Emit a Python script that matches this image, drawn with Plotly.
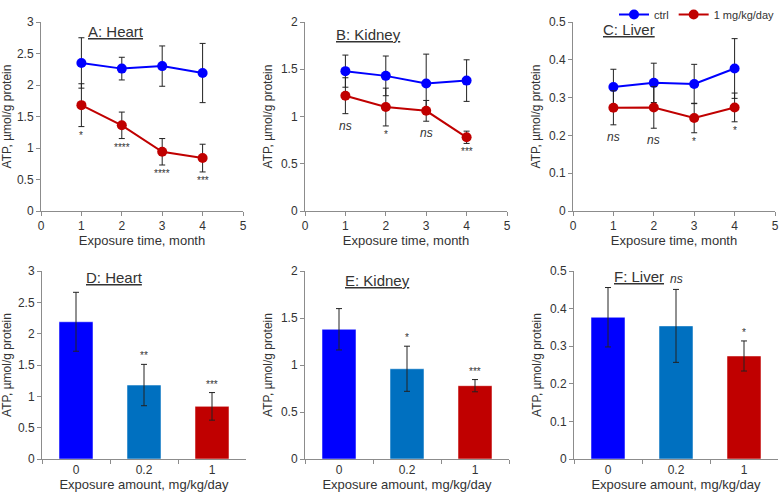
import plotly.graph_objects as go

# ---- data ----
months = [1, 2, 3, 4]

heart_ctrl = [2.35, 2.26, 2.30, 2.19]
heart_ctrl_err = [0.40, 0.18, 0.32, 0.47]
heart_trt = [1.68, 1.36, 0.94, 0.84]
heart_trt_err = [0.34, 0.21, 0.21, 0.22]
heart_sig = ["*", "****", "****", "***"]

kidney_ctrl = [1.48, 1.43, 1.35, 1.38]
kidney_ctrl_err = [0.17, 0.21, 0.31, 0.22]
kidney_trt = [1.22, 1.10, 1.06, 0.78]
kidney_trt_err = [0.19, 0.20, 0.11, 0.065]
kidney_sig = ["<i>ns</i>", "*", "<i>ns</i>", "***"]

liver_ctrl = [0.328, 0.339, 0.336, 0.377]
liver_ctrl_err = [0.047, 0.052, 0.052, 0.079]
liver_trt = [0.273, 0.274, 0.246, 0.274]
liver_trt_err = [0.045, 0.055, 0.039, 0.038]
liver_sig = ["<i>ns</i>", "<i>ns</i>", "*", "*"]

doses = ["0", "0.2", "1"]
heart_dose = [2.19, 1.18, 0.84]
heart_dose_err = [0.47, 0.33, 0.22]
heart_dose_sig = ["", "**", "***"]
kidney_dose = [1.38, 0.96, 0.78]
kidney_dose_err = [0.22, 0.24, 0.065]
kidney_dose_sig = ["", "*", "***"]
liver_dose = [0.377, 0.354, 0.274]
liver_dose_err = [0.079, 0.097, 0.04]
liver_dose_sig = ["", "<i>ns</i>", "*"]

BLUE = "#0000FF"
RED = "#C00000"
MID = "#0070C0"
TXT = "#333333"
AXC = "#8c8c8c"
FONT = "Liberation Sans, Arial, sans-serif"

fig = go.Figure()

top = [
    ("A: Heart", heart_ctrl, heart_ctrl_err, heart_trt, heart_trt_err, heart_sig, 3, 0.5),
    ("B: Kidney", kidney_ctrl, kidney_ctrl_err, kidney_trt, kidney_trt_err, kidney_sig, 2, 0.5),
    ("C: Liver", liver_ctrl, liver_ctrl_err, liver_trt, liver_trt_err, liver_sig, 0.5, 0.1),
]
bottom = [
    ("D: Heart", heart_dose, heart_dose_err, heart_dose_sig, 3, 0.5),
    ("E: Kidney", kidney_dose, kidney_dose_err, kidney_dose_sig, 2, 0.5),
    ("F: Liver", liver_dose, liver_dose_err, liver_dose_sig, 0.5, 0.1),
]

# panel domains in paper coords (pixels / figure size)
top_x = [(41, 243), (305, 507), (573, 775)]
bot_x = [(42, 246), (305, 509), (574, 778)]
top_y = (1 - 211 / 496, 1 - 22 / 496)
bot_y = (1 - 459 / 496, 1 - 271 / 496)
title_pos_top = [(0.225, 0.95), (0.145, 0.935), (0.14, 0.96)]
title_pos_bot = [(0.205, 0.965), (0.185, 0.95), (0.185, 0.97)]

err_style = dict(type="data", color="#222222", thickness=1, width=3)
annotations = []

axis_common = dict(
    showline=True, linecolor=AXC, linewidth=1, ticks="outside", ticklen=4,
    tickcolor=AXC, showgrid=False, zeroline=False, automargin=False,
    tickfont=dict(size=12, color=TXT, family=FONT),
)

for i, (name, c, ce, t, te, sig, ymax, dt) in enumerate(top):
    n = i + 1
    xa = "x" if n == 1 else "x%d" % n
    ya = "y" if n == 1 else "y%d" % n
    fig.add_trace(go.Scatter(
        x=months, y=c, error_y=dict(array=ce, **err_style), name="ctrl",
        mode="lines+markers", line=dict(color=BLUE, width=2),
        marker=dict(size=10, color=BLUE), xaxis=xa, yaxis=ya,
        showlegend=(n == 1), legendgroup="ctrl"))
    fig.add_trace(go.Scatter(
        x=months, y=t, error_y=dict(array=te, **err_style), name="1 mg/kg/day",
        mode="lines+markers", line=dict(color=RED, width=2),
        marker=dict(size=10, color=RED), xaxis=xa, yaxis=ya,
        showlegend=(n == 1), legendgroup="trt"))
    for m, v, e, s in zip(months, t, te, sig):
        italic = s.startswith("<i>")
        annotations.append(dict(
            x=m, y=v - e, xref=xa, yref=ya, text=s, showarrow=False,
            yanchor="top", yshift=-3 if italic else -1,
            font=dict(size=12 if italic else 10, color=TXT, family=FONT)))
    tx, ty = title_pos_top[i]
    annotations.append(dict(
        x=tx, y=ty, xref=xa + " domain", yref=ya + " domain",
        text="<u>" + name + "</u>", showarrow=False, xanchor="left",
        yanchor="middle", font=dict(size=15, color=TXT, family=FONT)))
    d = top_x[i]
    fig.layout["xaxis" if n == 1 else "xaxis%d" % n] = dict(
        domain=[d[0] / 780, d[1] / 780], anchor=ya, range=[0, 5], dtick=1,
        title=dict(text="Exposure time, month", standoff=2,
                   font=dict(size=13, color=TXT, family=FONT)),
        **axis_common)
    fig.layout["yaxis" if n == 1 else "yaxis%d" % n] = dict(
        domain=list(top_y), anchor=xa, range=[0, ymax], dtick=dt,
        title=dict(text="ATP, µmol/g protein", standoff=5,
                   font=dict(size=12, color=TXT, family=FONT)),
        **axis_common)

for i, (name, vals, errs, sig, ymax, dt) in enumerate(bottom):
    n = i + 4
    xa, ya = "x%d" % n, "y%d" % n
    fig.add_trace(go.Bar(
        x=doses, y=vals, error_y=dict(array=errs, **err_style), width=0.5,
        marker=dict(color=[BLUE, MID, RED], line=dict(color="rgba(255,255,255,0.5)", width=1)),
        xaxis=xa, yaxis=ya, showlegend=False))
    for j, (v, e, s) in enumerate(zip(vals, errs, sig)):
        if not s:
            continue
        italic = s.startswith("<i>")
        # category index keeps "0"/"1" labels from being read as positions
        annotations.append(dict(
            x=j, y=v + e, xref=xa, yref=ya, text=s, showarrow=False,
            yanchor="bottom", yshift=1,
            font=dict(size=12 if italic else 10, color=TXT, family=FONT)))
    tx, ty = title_pos_bot[i]
    annotations.append(dict(
        x=tx, y=ty, xref=xa + " domain", yref=ya + " domain",
        text="<u>" + name + "</u>", showarrow=False, xanchor="left",
        yanchor="middle", font=dict(size=15, color=TXT, family=FONT)))
    d = bot_x[i]
    fig.layout["xaxis%d" % n] = dict(
        domain=[d[0] / 780, d[1] / 780], anchor=ya, type="category",
        range=[-0.5, 2.5], tickson="boundaries",
        title=dict(text="Exposure amount, mg/kg/day", standoff=1,
                   font=dict(size=13, color=TXT, family=FONT)),
        **axis_common)
    fig.layout["yaxis%d" % n] = dict(
        domain=list(bot_y), anchor=xa, range=[0, ymax], dtick=dt,
        title=dict(text="ATP, µmol/g protein", standoff=5,
                   font=dict(size=12, color=TXT, family=FONT)),
        **axis_common)

fig.update_layout(
    width=780, height=496,
    margin=dict(l=0, r=0, t=0, b=0),
    paper_bgcolor="white", plot_bgcolor="white",
    font=dict(family=FONT, color=TXT, size=12),
    annotations=annotations,
    bargap=0.5,
    legend=dict(orientation="h", x=1, xanchor="right", y=1, yanchor="top",
                font=dict(size=11, color=TXT, family=FONT), itemwidth=30,
                tracegroupgap=0, bgcolor="rgba(0,0,0,0)"),
)

# the page's default 8px body margin would push the figure off the window
fig.write_html("out.html", config={"displayModeBar": False},
               post_script="document.body.style.margin='0';")
